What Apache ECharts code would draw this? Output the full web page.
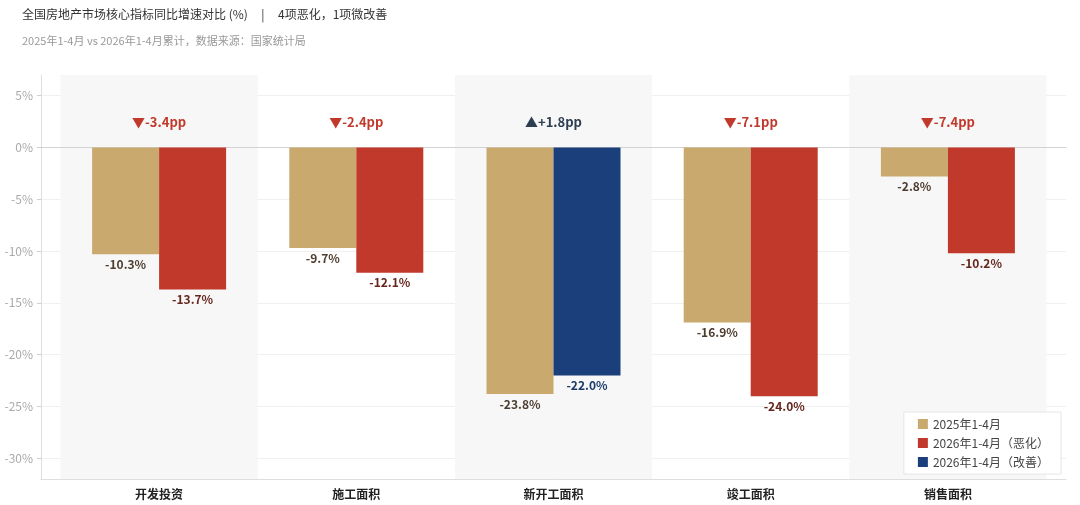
<!DOCTYPE html>
<html><head><meta charset="utf-8">
<script src="https://cdn.jsdelivr.net/npm/echarts@6/dist/echarts.min.js"></script>
<style>html,body{margin:0;padding:0;background:#fff}#c{width:1080px;height:505px}</style>
</head><body><div id="c"></div>
<script>
const categories = ['开发投资', '施工面积', '新开工面积', '竣工面积', '销售面积'];
const v2025 = [-10.3, -9.7, -23.8, -16.9, -2.8];
const v2026 = [-13.7, -12.1, -22.0, -24.0, -10.2];
const yTicks = [-30, -25, -20, -15, -10, -5, 0, 5];
const shadedIdx = [0, 2, 4];
const seriesNames = ['2025年1-4月', '2026年1-4月（恶化）', '2026年1-4月（改善）'];

const diffs = v2026.map((v, i) => Math.round((v - v2025[i]) * 10) / 10);
const improved = diffs.map(d => d > 0);
const Y_MIN = -32, Y_MAX = 7, ANN_Y = 2.5;
const FONT = '"Noto Sans CJK SC", "Noto Sans", sans-serif';
const C_TAN = '#c9a96e', C_RED = '#c0392b', C_BLUE = '#1b3f7a';

const chart = echarts.init(document.getElementById('c'));
chart.setOption({
  animation: false,
  textStyle: { fontFamily: FONT },
  title: [
    { text: '全国房地产市场核心指标同比增速对比 (%)     |     4项恶化，1项微改善', left: 17, top: 3,
      textStyle: { fontSize: 12, fontWeight: 'normal', color: '#333', fontFamily: FONT } },
    { text: '2025年1-4月 vs 2026年1-4月累计，数据来源：国家统计局', left: 17, top: 30,
      textStyle: { fontSize: 11, fontWeight: 'normal', color: '#999', fontFamily: FONT } }
  ],
  legend: {
    data: seriesNames, orient: 'vertical', right: 19, top: 412,
    backgroundColor: '#fff', borderColor: '#e6e6e6', borderWidth: 1, padding: [6, 12, 6, 14],
    itemWidth: 10, itemHeight: 10, itemGap: 7, icon: 'rect',
    textStyle: { fontSize: 12, color: '#444', fontFamily: FONT }
  },
  grid: [
    { left: 41, right: 14, top: 75, bottom: 26 },
    { left: 60.5, right: 33.5, top: 75, bottom: 26 }
  ],
  xAxis: [
    { type: 'value', gridIndex: 0, min: 0, max: 1, position: 'bottom',
      axisLine: { show: true, onZero: false, lineStyle: { color: '#dedede' } },
      axisTick: { show: false }, axisLabel: { show: false }, splitLine: { show: false } },
    { type: 'value', gridIndex: 0, min: 0, max: 1,
      axisLine: { show: true, onZero: true, lineStyle: { color: '#d2d2d2', width: 1.2 } },
      axisTick: { show: false }, axisLabel: { show: false }, splitLine: { show: false } },
    { type: 'category', gridIndex: 1, data: categories,
      axisLine: { show: false, onZero: false }, axisTick: { show: false },
      axisLabel: { margin: 9, fontSize: 12, fontWeight: 'bold', color: '#222', fontFamily: FONT } }
  ],
  yAxis: [
    { type: 'value', gridIndex: 0, min: Y_MIN, max: Y_MAX,
      axisLine: { show: true, lineStyle: { color: '#dedede' } },
      axisTick: { show: true, length: 4, customValues: yTicks, lineStyle: { color: '#cfcfcf' } },
      axisLabel: { customValues: yTicks, formatter: v => v + '%', color: '#aaa', fontSize: 12, margin: 8, fontFamily: FONT },
      splitLine: { show: true, lineStyle: { color: '#f0f0f0' } } },
    { type: 'value', gridIndex: 1, min: Y_MIN, max: Y_MAX, show: false, splitLine: { show: false } }
  ],
  series: [
    { type: 'custom', xAxisIndex: 2, yAxisIndex: 1, silent: true, z: 0,
      data: shadedIdx.map(i => [i, 0]),
      renderItem: (params, api) => {
        const x = api.value(0);
        const top = api.coord([x, Y_MAX]);
        const bot = api.coord([x, Y_MIN]);
        const w = api.size([1, 0])[0];
        return { type: 'rect', shape: { x: top[0] - w / 2, y: top[1], width: w, height: bot[1] - top[1] },
                 style: { fill: '#f7f7f7' } };
      } },
    { name: seriesNames[0], type: 'bar', xAxisIndex: 2, yAxisIndex: 1, data: v2025,
      barWidth: 67, barGap: '0%', itemStyle: { color: C_TAN }, z: 3,
      label: { show: true, position: 'bottom', distance: 4, formatter: p => p.value.toFixed(1) + '%',
               fontSize: 12, fontWeight: 'bold', color: '#4d3d30', fontFamily: FONT } },
    { name: seriesNames[1], type: 'bar', xAxisIndex: 2, yAxisIndex: 1, stack: 'y26',
      data: v2026.map((v, i) => improved[i] ? '-' : v),
      barWidth: 67, barGap: '0%', itemStyle: { color: C_RED }, z: 3,
      label: { show: true, position: 'bottom', distance: 4, formatter: p => p.value.toFixed(1) + '%',
               fontSize: 12, fontWeight: 'bold', color: '#66261d', fontFamily: FONT } },
    { name: seriesNames[2], type: 'bar', xAxisIndex: 2, yAxisIndex: 1, stack: 'y26',
      data: v2026.map((v, i) => improved[i] ? v : '-'),
      barWidth: 67, barGap: '0%', itemStyle: { color: C_BLUE }, z: 3,
      label: { show: true, position: 'bottom', distance: 4, formatter: p => p.value.toFixed(1) + '%',
               fontSize: 12, fontWeight: 'bold', color: '#1b3a6b', fontFamily: FONT } },
    { type: 'scatter', xAxisIndex: 2, yAxisIndex: 1, symbolSize: 0, silent: true, z: 5,
      itemStyle: { opacity: 1, color: 'rgba(0,0,0,0)' },
      data: diffs.map(d => ({ value: ANN_Y, label: { color: d > 0 ? '#2c3e50' : C_RED } })),
      label: { show: true, position: 'inside', fontSize: 13, fontWeight: 'bold', fontFamily: FONT,
        formatter: p => { const d = diffs[p.dataIndex]; return (d > 0 ? '▲+' : '▼') + d.toFixed(1) + 'pp'; } } }
  ]
});
</script></body></html>
